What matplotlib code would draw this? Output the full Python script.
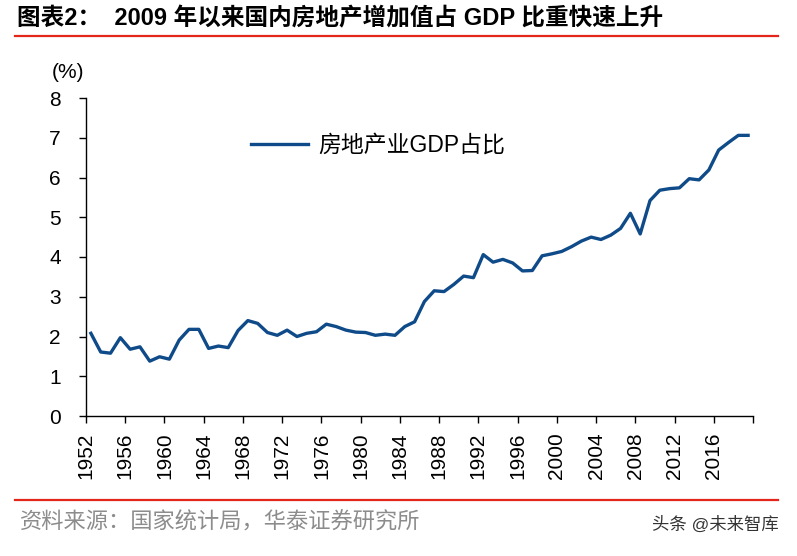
import matplotlib
matplotlib.use("Agg")
import matplotlib.pyplot as plt
from matplotlib.lines import Line2D

plt.rcParams['font.family'] = ['Liberation Sans', 'Noto Sans CJK SC', 'DejaVu Sans']

years = list(range(1952, 2020))
share = [2.08, 1.61, 1.58, 1.97, 1.68, 1.74, 1.38, 1.49, 1.43, 1.91,
         2.18, 2.18, 1.70, 1.76, 1.72, 2.15, 2.40, 2.33, 2.10, 2.03,
         2.16, 2.00, 2.08, 2.12, 2.31, 2.25, 2.16, 2.11, 2.10, 2.03,
         2.06, 2.03, 2.25, 2.37, 2.88, 3.15, 3.13, 3.31, 3.52, 3.48,
         4.06, 3.87, 3.94, 3.85, 3.65, 3.66, 4.03, 4.08, 4.14, 4.26,
         4.40, 4.50, 4.44, 4.55, 4.72, 5.10, 4.58, 5.42, 5.68, 5.72,
         5.74, 5.97, 5.94, 6.19, 6.69, 6.88, 7.06, 7.06]
tick_years = list(range(1952, 2021, 4))
tick_labels = [str(y) for y in tick_years[:-1]] + ['']
yticks = list(range(0, 9))

title = "图表2：  2009 年以来国内房地产增加值占 GDP 比重快速上升"
legend_label = "房地产业GDP占比"
source = "资料来源：国家统计局，华泰证券研究所"
watermark = "头条 @未来智库"

fig = plt.figure(figsize=(7.97, 5.56), dpi=100)
ax = fig.add_axes([86/797, 1-416/556, (753-86)/797, (416-98)/556])

x = [y - years[0] for y in years]
ax.plot(x, share, color='#0F4A89', lw=2.4, label=legend_label)

ax.set_xlim(-0.5, len(years) - 0.5)
ax.set_ylim(0, 8)
ax.set_yticks(yticks)
ax.set_yticklabels([str(v) for v in yticks], fontsize=15)
ax.set_xticks([t - years[0] - 0.5 for t in tick_years])
ax.set_xticklabels(tick_labels, rotation=90, fontsize=15)
for s in ['top', 'right']:
    ax.spines[s].set_visible(False)
for s in ['left', 'bottom']:
    ax.spines[s].set_linewidth(1.0)
ax.tick_params(axis='both', direction='out', length=5, width=1.0)
ax.tick_params(axis='y', pad=13)
ax.tick_params(axis='x', pad=7)
ax.text(-0.027, 1.05, "(%)", transform=ax.transAxes, fontsize=15, ha='center', va='bottom')

leg = ax.legend(loc='center left', bbox_to_anchor=(0.2474, 0.852), frameon=False,
                fontsize=16.5, handlelength=2.5, handletextpad=0.45,
                borderpad=0, borderaxespad=0)

fig.text(17/797, 1-19/556, title, fontsize=17, fontweight='bold', ha='left', va='center')
fig.add_artist(Line2D([15/797, 778/797], [1-36/556, 1-36/556], color='#E3251B', lw=1.6))
fig.add_artist(Line2D([15/797, 778/797], [1-500/556, 1-500/556], color='#E3251B', lw=1.6))
fig.text(20/797, 1-523/556, source, fontsize=16, color='#8C8C8C', ha='left', va='center')
fig.text(779/797, 1-524/556, watermark, fontsize=12.5, color='#333333', ha='right', va='center')

fig.savefig('out.png', dpi=100)
